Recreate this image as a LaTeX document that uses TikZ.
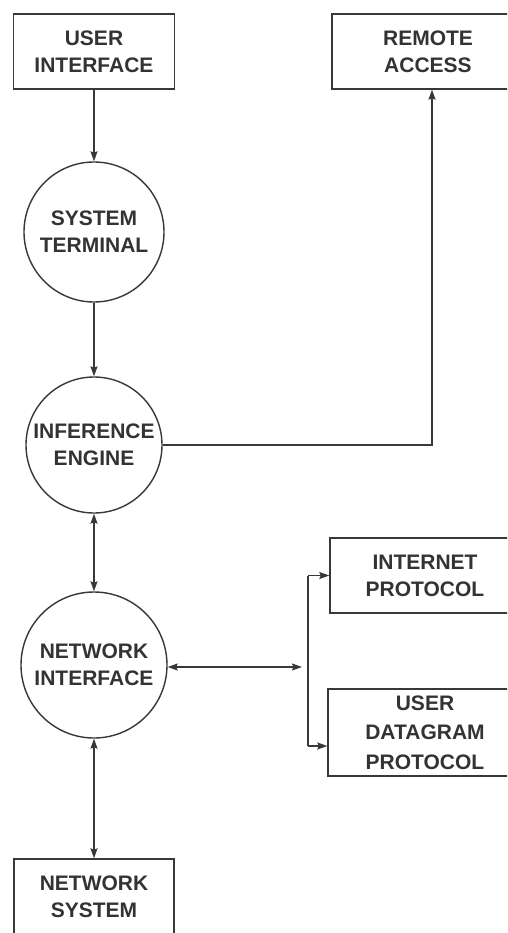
\documentclass[tikz,border=0pt]{standalone}
\usepackage{fontspec}
\setmainfont{Liberation Sans}
\usetikzlibrary{arrows.meta}
\begin{document}
\begin{tikzpicture}[x=1pt,y=-1pt,
  ink/.style={draw=black!78,line width=1.4pt},
  txt/.style={text=black!80,font=\fontsize{21}{27}\selectfont\bfseries,align=center,inner sep=0pt},
  boxnode/.style={ink,txt,rectangle},
  circnode/.style={ink,txt,circle},
  conn/.style={ink,-{Stealth[length=10pt,width=7pt,inset=1.5pt]}},
  bidir/.style={ink,{Stealth[length=10pt,width=7pt,inset=1.5pt]}-{Stealth[length=10pt,width=7pt,inset=1.5pt]}}]
\clip (0,0) rectangle (507,933);
\fill[white] (0,0) rectangle (507,933);
\node[boxnode,minimum width=161pt,minimum height=75pt] (ui) at (94,51.5) {USER\\INTERFACE};
\node[boxnode,minimum width=192pt,minimum height=75pt] (ra) at (428,51.5) {REMOTE\\ACCESS};
\node[circnode,minimum size=140pt] (st) at (94,232) {SYSTEM\\TERMINAL};
\node[circnode,minimum size=136pt] (ie) at (94,445) {INFERENCE\\ENGINE};
\node[circnode,minimum size=146pt] (ni) at (94,665) {NETWORK\\INTERFACE};
\node[boxnode,minimum width=190pt,minimum height=75pt] (ip) at (425,575.5) {INTERNET\\PROTOCOL};
\node[boxnode,minimum width=194pt,minimum height=87pt,font=\fontsize{21}{29.5}\selectfont\bfseries] (udp) at (425,732.5) {USER\\DATAGRAM\\PROTOCOL};
\node[boxnode,minimum width=160pt,minimum height=76pt] (ns) at (94,897) {NETWORK\\SYSTEM};
\coordinate (corner) at (432,445);
\coordinate (bt) at (308,575.5);
\coordinate (bb) at (308,746);
\coordinate (bm) at (302,667);
\draw[conn] (ui.south) -- (st.north);
\draw[conn] (st.south) -- (ie.north);
\draw[conn] (ie.east) -- (corner) -- ([xshift=4pt]ra.south);
\draw[bidir] (ie.south) -- (ni.north);
\draw[bidir] (ni.south) -- (ns.north);
\draw[bidir] (ni.east |- bm) -- (bm);
\draw[ink] (bt) -- (bb);
\draw[conn] (bt) -- (ip.west);
\draw[conn] (bb) -- (udp.west |- bb);
\end{tikzpicture}
\end{document}
